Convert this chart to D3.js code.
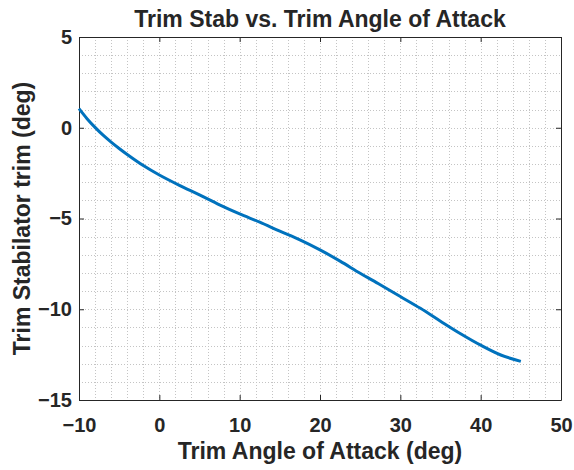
<!DOCTYPE html>
<html>
<head>
<meta charset="utf-8">
<script src="https://cdn.jsdelivr.net/npm/d3@7"></script>
<style>
  body { margin: 0; background: #fff; }
  text { font-family: "Liberation Sans", Arial, sans-serif; font-weight: bold; fill: #262626; }
</style>
</head>
<body>
<div class="chart"></div>
<script>
// data
const alpha = [-10, -9, -8, -7, -6, -5, -4, -2, 0, 2.5, 5, 7.5, 10, 12.5, 15, 17.5, 20, 22.5, 25, 27.5, 30, 32.5, 35, 37.5, 40, 42.5, 45]
const stab = [1.05, 0.5, 0.02, -0.41, -0.79, -1.14, -1.47, -2.08, -2.6, -3.17, -3.7, -4.25, -4.75, -5.2, -5.7, -6.18, -6.73, -7.35, -8.02, -8.65, -9.3, -9.95, -10.66, -11.35, -11.98, -12.52, -12.87]
const xTicks = [-10, 0, 10, 20, 30, 40, 50]
const yTicks = [-15, -10, -5, 0, 5]

const width = 574
const height = 470
const margin = { top: 37, right: 13, bottom: 70, left: 79 }
const innerW = width - margin.left - margin.right
const innerH = height - margin.top - margin.bottom

const x = d3.scaleLinear().domain([-10, 50]).range([0, innerW])
const y = d3.scaleLinear().domain([-15, 5]).range([innerH, 0])

const svg = d3.select('.chart')
    .append('svg')
    .attr('width', width)
    .attr('height', height)

const g = svg.append('g')
    .attr('transform', `translate(${margin.left}, ${margin.top})`)

// minor grid, every 2 deg on x and every 1 deg on y
const grid = g.append('g')
    .attr('stroke', '#c4c4c4')
    .attr('stroke-width', 1)
    .attr('stroke-dasharray', '1,2')

grid.selectAll('.gx')
    .data(d3.range(-8, 50, 2))
    .enter()
    .append('line')
    .attr('x1', d => Math.round(x(d)) + 0.5)
    .attr('x2', d => Math.round(x(d)) + 0.5)
    .attr('y1', 0)
    .attr('y2', innerH)

grid.selectAll('.gy')
    .data(d3.range(-14, 5, 1))
    .enter()
    .append('line')
    .attr('y1', d => Math.round(y(d)) + 0.5)
    .attr('y2', d => Math.round(y(d)) + 0.5)
    .attr('x1', 0)
    .attr('x2', innerW)

// axes with inward ticks on all sides
const styleAxis = sel => {
    sel.select('.domain').attr('stroke', '#262626')
    sel.selectAll('.tick line').attr('stroke', '#262626')
}

g.append('g')
    .attr('transform', `translate(0, ${innerH})`)
    .call(d3.axisBottom(x).tickValues(xTicks).tickSizeInner(-5).tickSizeOuter(0).tickPadding(18))
    .call(styleAxis)
    .call(a => a.selectAll('text').style('font-size', '20px').attr('fill', '#262626'))

g.append('g')
    .call(d3.axisTop(x).tickValues(xTicks).tickSizeInner(-5).tickSizeOuter(0).tickFormat(''))
    .call(styleAxis)

g.append('g')
    .call(d3.axisLeft(y).tickValues(yTicks).tickSizeInner(-5).tickSizeOuter(0).tickPadding(7))
    .call(styleAxis)
    .call(a => a.selectAll('text').style('font-size', '20px').attr('fill', '#262626'))

g.append('g')
    .attr('transform', `translate(${innerW}, 0)`)
    .call(d3.axisRight(y).tickValues(yTicks).tickSizeInner(-5).tickSizeOuter(0).tickFormat(''))
    .call(styleAxis)

// the curve
const line = d3.line()
    .x(d => x(d[0]))
    .y(d => y(d[1]))
    .curve(d3.curveCatmullRom)

g.append('path')
    .datum(d3.zip(alpha, stab))
    .attr('fill', 'none')
    .attr('stroke', '#0072BD')
    .attr('stroke-width', 3)
    .attr('d', line)

// labels
svg.append('text')
    .attr('x', margin.left + innerW / 2)
    .attr('y', 27)
    .attr('text-anchor', 'middle')
    .style('font-size', '23px')
    .text('Trim Stab vs. Trim Angle of Attack')

svg.append('text')
    .attr('x', margin.left + innerW / 2)
    .attr('y', 459)
    .attr('text-anchor', 'middle')
    .style('font-size', '23px')
    .text('Trim Angle of Attack (deg)')

svg.append('text')
    .attr('transform', `translate(30, ${margin.top + innerH / 2}) rotate(-90)`)
    .attr('text-anchor', 'middle')
    .style('font-size', '23px')
    .text('Trim Stabilator trim (deg)')
</script>
</body>
</html>
